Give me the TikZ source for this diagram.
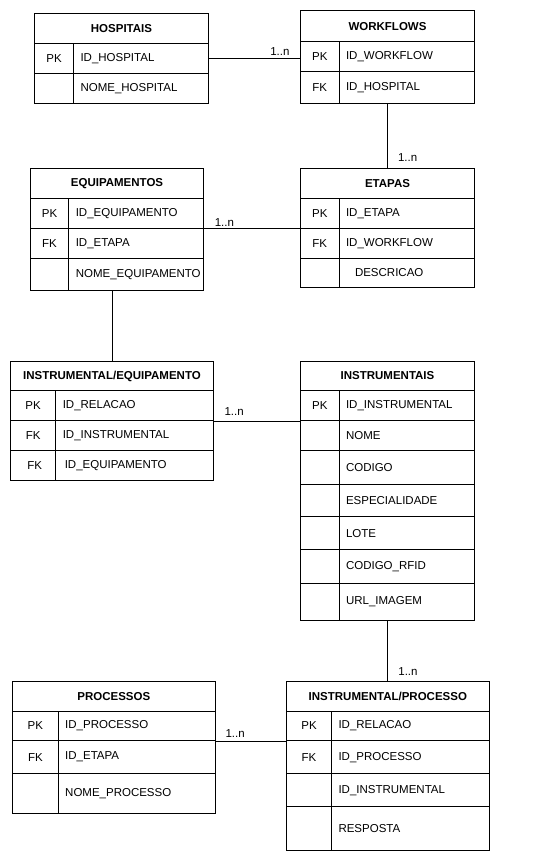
\documentclass[tikz,border=0pt]{standalone}
\usepackage{fontspec}
\setmainfont{Liberation Sans}
\usepackage{tikz}
\usetikzlibrary{positioning}
\tikzstyle{tabhead} = [draw=black, anchor=north west, inner sep=0, font=\bfseries\fontsize{11.5}{13}\selectfont]
\tikzstyle{keycell} = [draw=black, anchor=north west, inner sep=0]
\tikzstyle{fieldcell} = [draw=black, anchor=north west, inner sep=0, inner xsep=7pt, align=left]
\tikzstyle{mult} = [inner sep=0, anchor=base west, xshift=10pt]

\begin{document}
\begin{tikzpicture}[x=1pt, y=-1pt, line width=1pt, font=\fontsize{11.5}{13}\selectfont]
				\useasboundingbox (0, 0) rectangle (541, 861);

				% hospitals
				\node (HospTitle) [tabhead, minimum width=174pt, minimum height=29.5pt] at (34, 13.5) {HOSPITAIS};
				\node (HospPkKey) [keycell, minimum width=39pt, minimum height=30.5pt] at (34, 43) {PK};
				\node (HospPk) [fieldcell, text width=121pt, minimum height=30.5pt] at (73, 43) {ID\_HOSPITAL};
				\node (HospNomeKey) [keycell, minimum width=39pt, minimum height=29.5pt] at (34, 73.5) {};
				\node (HospNome) [fieldcell, text width=121pt, minimum height=29.5pt] at (73, 73.5) {NOME\_HOSPITAL};

				% workflows
				\node (WfTitle) [tabhead, minimum width=174pt, minimum height=30.2pt] at (300, 10.5) {WORKFLOWS};
				\node (WfPkKey) [keycell, minimum width=38.5pt, minimum height=30pt] at (300, 40.7) {PK};
				\node (WfPk) [fieldcell, text width=121.5pt, minimum height=30pt] at (338.5, 40.7) {ID\_WORKFLOW};
				\node (WfFkKey) [keycell, minimum width=38.5pt, minimum height=32.3pt] at (300, 70.7) {FK};
				\node (WfFk) [fieldcell, text width=121.5pt, minimum height=32.3pt] at (338.5, 70.7) {ID\_HOSPITAL};

				% equipments
				\node (EqTitle) [tabhead, minimum width=173.6pt, minimum height=30pt] at (29.7, 167.7) {EQUIPAMENTOS};
				\node (EqPkKey) [keycell, minimum width=38.6pt, minimum height=30pt] at (29.7, 197.7) {PK};
				\node (EqPk) [fieldcell, text width=121pt, minimum height=30pt] at (68.3, 197.7) {ID\_EQUIPAMENTO};
				\node (EqFkKey) [keycell, minimum width=38.6pt, minimum height=30pt] at (29.7, 227.7) {FK};
				\node (EqFk) [fieldcell, text width=121pt, minimum height=30pt] at (68.3, 227.7) {ID\_ETAPA};
				\node (EqNomeKey) [keycell, minimum width=38.6pt, minimum height=32.3pt] at (29.7, 257.7) {};
				\node (EqNome) [fieldcell, text width=121pt, minimum height=32.3pt] at (68.3, 257.7) {NOME\_EQUIPAMENTO};

				% stages
				\node (EtTitle) [tabhead, minimum width=174pt, minimum height=30pt] at (300, 167.7) {ETAPAS};
				\node (EtPkKey) [keycell, minimum width=38.5pt, minimum height=30pt] at (300, 197.7) {PK};
				\node (EtPk) [fieldcell, text width=121.5pt, minimum height=30pt] at (338.5, 197.7) {ID\_ETAPA};
				\node (EtFkKey) [keycell, minimum width=38.5pt, minimum height=30pt] at (300, 227.7) {FK};
				\node (EtFk) [fieldcell, text width=121.5pt, minimum height=30pt] at (338.5, 227.7) {ID\_WORKFLOW};
				\node (EtDescKey) [keycell, minimum width=38.5pt, minimum height=29.6pt] at (300, 257.7) {};
				\node (EtDesc) [fieldcell, text width=121.5pt, minimum height=29.6pt] at (338.5, 257.7) {\hspace{9pt}DESCRICAO};

				% instrumental / equipment
				\node (IeTitle) [tabhead, minimum width=203pt, minimum height=29.6pt] at (10, 360.7) {INSTRUMENTAL/EQUIPAMENTO};
				\node (IePkKey) [keycell, minimum width=45.3pt, minimum height=30pt] at (10, 390.3) {PK};
				\node (IePk) [fieldcell, text width=143.7pt, minimum height=30pt] at (55.3, 390.3) {ID\_RELACAO};
				\node (IeInstKey) [keycell, minimum width=45.3pt, minimum height=30pt] at (10, 420.3) {FK};
				\node (IeInst) [fieldcell, text width=143.7pt, minimum height=30pt] at (55.3, 420.3) {ID\_INSTRUMENTAL};
				\node (IeEqKey) [keycell, minimum width=45.3pt, minimum height=30pt] at (10, 450.3) {\hspace{3pt}FK};
				\node (IeEq) [fieldcell, text width=143.7pt, minimum height=30pt] at (55.3, 450.3) {\hspace{2pt}ID\_EQUIPAMENTO};

				% instrumentals
				\node (InTitle) [tabhead, minimum width=174pt, minimum height=29.6pt] at (300, 360.7) {INSTRUMENTAIS};
				\node (InPkKey) [keycell, minimum width=38.5pt, minimum height=30pt] at (300, 390.3) {PK};
				\node (InPk) [fieldcell, text width=121.5pt, minimum height=30pt] at (338.5, 390.3) {ID\_INSTRUMENTAL};
				\node (InNomeKey) [keycell, minimum width=38.5pt, minimum height=30pt] at (300, 420.3) {};
				\node (InNome) [fieldcell, text width=121.5pt, minimum height=30pt] at (338.5, 420.3) {NOME};
				\node (InCodKey) [keycell, minimum width=38.5pt, minimum height=33.4pt] at (300, 450.3) {};
				\node (InCod) [fieldcell, text width=121.5pt, minimum height=33.4pt] at (338.5, 450.3) {CODIGO};
				\node (InEspKey) [keycell, minimum width=38.5pt, minimum height=32.6pt] at (300, 483.7) {};
				\node (InEsp) [fieldcell, text width=121.5pt, minimum height=32.6pt] at (338.5, 483.7) {ESPECIALIDADE};
				\node (InLoteKey) [keycell, minimum width=38.5pt, minimum height=33pt] at (300, 516.3) {};
				\node (InLote) [fieldcell, text width=121.5pt, minimum height=33pt] at (338.5, 516.3) {LOTE};
				\node (InRfidKey) [keycell, minimum width=38.5pt, minimum height=33.4pt] at (300, 549.3) {};
				\node (InRfid) [fieldcell, text width=121.5pt, minimum height=33.4pt] at (338.5, 549.3) {CODIGO\_RFID};
				\node (InUrlKey) [keycell, minimum width=38.5pt, minimum height=37.6pt] at (300, 582.7) {};
				\node (InUrl) [fieldcell, text width=121.5pt, minimum height=37.6pt] at (338.5, 582.7) {URL\_IMAGEM};

				% processes
				\node (PrTitle) [tabhead, minimum width=202.7pt, minimum height=30pt] at (12, 680.7) {PROCESSOS};
				\node (PrPkKey) [keycell, minimum width=45.7pt, minimum height=29.3pt] at (12, 710.7) {PK};
				\node (PrPk) [fieldcell, text width=143pt, minimum height=29.3pt] at (57.7, 710.7) {ID\_PROCESSO};
				\node (PrFkKey) [keycell, minimum width=45.7pt, minimum height=33.3pt] at (12, 740) {FK};
				\node (PrFk) [fieldcell, text width=143pt, minimum height=33.3pt] at (57.7, 740) {ID\_ETAPA};
				\node (PrNomeKey) [keycell, minimum width=45.7pt, minimum height=39.7pt] at (12, 773.3) {};
				\node (PrNome) [fieldcell, text width=143pt, minimum height=39.7pt] at (57.7, 773.3) {NOME\_PROCESSO};

				% instrumental / process
				\node (IpTitle) [tabhead, minimum width=202.7pt, minimum height=30pt] at (286, 680.7) {INSTRUMENTAL/PROCESSO};
				\node (IpPkKey) [keycell, minimum width=45pt, minimum height=29.3pt] at (286, 710.7) {PK};
				\node (IpPk) [fieldcell, text width=143.7pt, minimum height=29.3pt] at (331, 710.7) {ID\_RELACAO};
				\node (IpProcKey) [keycell, minimum width=45pt, minimum height=33.3pt] at (286, 740) {FK};
				\node (IpProc) [fieldcell, text width=143.7pt, minimum height=33.3pt] at (331, 740) {ID\_PROCESSO};
				\node (IpInstKey) [keycell, minimum width=45pt, minimum height=32.7pt] at (286, 773.3) {};
				\node (IpInst) [fieldcell, text width=143.7pt, minimum height=32.7pt] at (331, 773.3) {ID\_INSTRUMENTAL};
				\node (IpRespKey) [keycell, minimum width=45pt, minimum height=44pt] at (286, 806) {};
				\node (IpResp) [fieldcell, text width=143.7pt, minimum height=44pt] at (331, 806) {RESPOSTA};

				% relations
				\draw (HospPk.east) -- (HospPk.east -| WfPkKey.west)
					node [mult, at end, anchor=base east, xshift=-20pt, yshift=3pt] {1..n};
				\draw (EtTitle.north |- WfFkKey.south) -- (EtTitle.north)
					node [mult, at end, yshift=5.7pt] {1..n};
				\draw (EqPk.south east) -- (EtPkKey.south west)
					node [mult, at start, yshift=2.5pt] {1..n};
				\draw (IeTitle.north |- EqNomeKey.south) -- (IeTitle.north);
				\draw (IePk.south east) -- (InPkKey.south west)
					node [mult, at start, yshift=5.5pt] {1..n};
				\draw (IpTitle.north |- InUrlKey.south) -- (IpTitle.north)
					node [mult, at end, yshift=5pt] {1..n};
				\draw (PrPk.south east) -- (IpPkKey.south west)
					node [mult, at start, xshift=-0.7pt, yshift=3.7pt] {1..n};
\end{tikzpicture}
\end{document}
